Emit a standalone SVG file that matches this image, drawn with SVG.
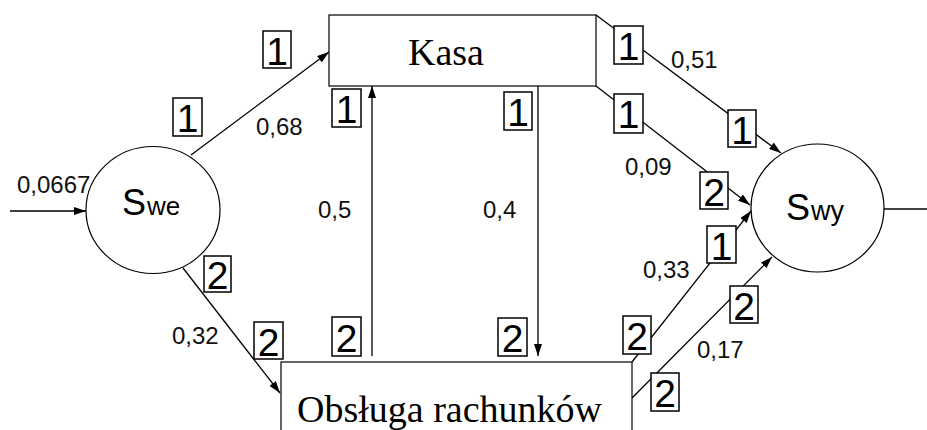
<svg xmlns="http://www.w3.org/2000/svg" width="927" height="430" viewBox="0 0 927 430">
<defs>
<style>
.ln{stroke:#000;stroke-width:1.3;fill:none}
.nd{stroke:#000;stroke-width:1.2;fill:#fff}
.serif{font-family:"Liberation Serif","Times New Roman",serif;font-size:38px;fill:#000}
.sans{font-family:"Liberation Sans",Arial,sans-serif;fill:#000}
.lbl{font-family:"Liberation Sans",Arial,sans-serif;font-size:24px;fill:#111}
.bx rect{fill:#fff;stroke:#000;stroke-width:1.5}
.bx text{font-family:"Liberation Sans",Arial,sans-serif;font-size:39px;text-anchor:middle;fill:#000}
</style>
<marker id="ah" viewBox="0 0 12 8" refX="12" refY="4" markerWidth="12" markerHeight="8" markerUnits="userSpaceOnUse" orient="auto">
<path d="M0,0 L12,4 L0,8 Z" fill="#000"/>
</marker>
</defs>
<rect width="927" height="430" fill="#fff"/>
<g id="connectors">
<line class="ln" x1="10" y1="211" x2="86" y2="211" marker-end="url(#ah)"/>
<line class="ln" x1="191" y1="155" x2="329" y2="52" marker-end="url(#ah)"/>
<line class="ln" x1="183" y1="268" x2="280" y2="393" marker-end="url(#ah)"/>
<line class="ln" x1="372" y1="356" x2="372" y2="86" marker-end="url(#ah)"/>
<line class="ln" x1="538" y1="86" x2="538" y2="356" marker-end="url(#ah)"/>
<line class="ln" x1="596" y1="15" x2="781" y2="153" marker-end="url(#ah)"/>
<line class="ln" x1="596" y1="86" x2="750" y2="205" marker-end="url(#ah)"/>
<line class="ln" x1="632" y1="362" x2="751" y2="211" marker-end="url(#ah)"/>
<line class="ln" x1="632" y1="398" x2="772" y2="257" marker-end="url(#ah)"/>
<line class="ln" x1="884" y1="209" x2="927" y2="209"/>
</g>
<g id="Swe">
<ellipse class="nd" cx="153" cy="210" rx="67" ry="63.5"/>
<text class="sans" x="122" y="215" font-size="36">S<tspan x="147" font-size="26">we</tspan></text>
</g>
<g id="Swy">
<ellipse class="nd" cx="817.5" cy="208" rx="66.5" ry="64"/>
<text class="sans" x="786" y="220" font-size="36">S<tspan x="811" font-size="27">wy</tspan></text>
</g>
<g id="Kasa">
<rect class="nd" x="329" y="15" width="267" height="71"/>
<text class="serif" x="408" y="65">Kasa</text>
</g>
<g id="Obsluga">
<rect class="nd" x="281" y="362" width="351" height="90"/>
<text class="serif" x="297" y="422">Obsługa rachunków</text>
</g>
<g id="labels">
<text class="lbl" x="17" y="193">0,0667</text>
<text class="lbl" x="256" y="135">0,68</text>
<text class="lbl" x="172" y="344">0,32</text>
<text class="lbl" x="318" y="218">0,5</text>
<text class="lbl" x="483" y="218">0,4</text>
<text class="lbl" x="671" y="68">0,51</text>
<text class="lbl" x="625" y="175">0,09</text>
<text class="lbl" x="643" y="278">0,33</text>
<text class="lbl" x="697" y="358">0,17</text>
</g>
<g id="boxes" class="bx">
<g><rect x="173" y="98" width="29" height="38"/><text x="187.5" y="132">1</text></g>
<g><rect x="263" y="31" width="28" height="37"/><text x="277" y="65">1</text></g>
<g><rect x="204" y="256" width="27" height="36"/><text x="217.5" y="289">2</text></g>
<g><rect x="254" y="322" width="29" height="37"/><text x="268.5" y="356">2</text></g>
<g><rect x="332" y="89" width="29" height="38"/><text x="346.5" y="123">1</text></g>
<g><rect x="504" y="92" width="28" height="38"/><text x="518" y="126">1</text></g>
<g><rect x="332" y="317" width="29" height="39"/><text x="346.5" y="352">2</text></g>
<g><rect x="498" y="318" width="29" height="38"/><text x="512.5" y="352">2</text></g>
<g><rect x="614" y="26" width="29" height="38"/><text x="628.5" y="60">1</text></g>
<g><rect x="614" y="94" width="29" height="39"/><text x="628.5" y="128">1</text></g>
<g><rect x="728" y="110" width="28" height="37"/><text x="742" y="144">1</text></g>
<g><rect x="700" y="172" width="28" height="37"/><text x="714" y="206">2</text></g>
<g><rect x="623" y="316" width="28" height="38"/><text x="637" y="350">2</text></g>
<g><rect x="707" y="226" width="29" height="37"/><text x="721.5" y="260">1</text></g>
<g><rect x="730" y="286" width="28" height="37"/><text x="744" y="320">2</text></g>
<g><rect x="651" y="373" width="28" height="38"/><text x="665" y="407">2</text></g>
</g>
</svg>
